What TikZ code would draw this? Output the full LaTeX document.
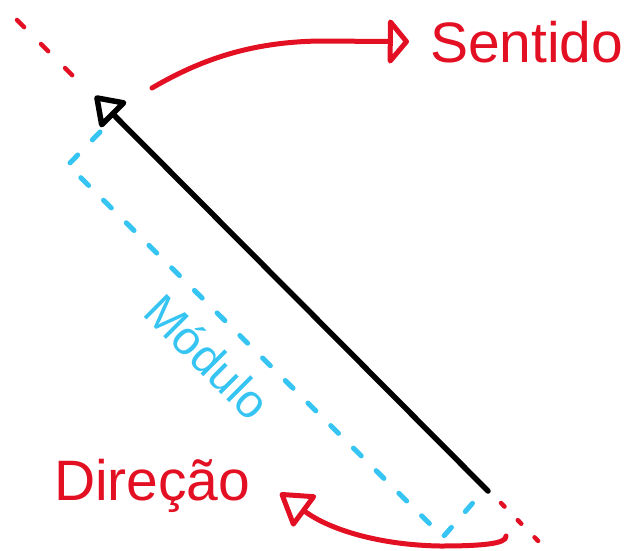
\documentclass[tikz,border=0pt]{standalone}
\usepackage{fontspec}
\setmainfont{Liberation Sans}
\usepackage{xcolor}
\usetikzlibrary{arrows.meta}
\definecolor{vecred}{HTML}{E31023}
\definecolor{vecblue}{HTML}{36C4F2}

\begin{document}
\begin{tikzpicture}[
    x=1pt,y=-1pt,
    every node/.style={inner sep=0pt,outer sep=0pt},
    lbl/.style={font=\fontsize{57}{60}\selectfont},
    vec/.style={line width=5.5pt,line cap=round,-{Triangle[open,round,length=30pt,width=40pt]}},
    axisline/.style={draw=vecred,line width=4.5pt,line cap=round,dash pattern=on 10pt off 24pt},
    measure/.style={draw=vecblue,line width=5pt,line cap=round,line join=round,dash pattern=on 11pt off 21pt},
    turn/.style={draw=vecred,line width=5pt,line cap=round}
  ]
    \useasboundingbox (0,0) rectangle (632,550);
    % labels
    \node[lbl,text=vecred,anchor=base west] (sentido) at (430,62) {Sentido};
    \node[lbl,text=vecred,anchor=base west] (direcao) at (54,500) {Direção};
    \node[lbl,text=vecblue,font=\fontsize{47}{50}\selectfont,rotate=-45,anchor=base west] (modulo) at (141,314) {Módulo};
    % vector ends
    \coordinate (tail) at (488,491);
    \coordinate (tip) at (95,96);
    % direction line
    \draw[axisline] (17,20) -- (73,76);
    \draw[axisline,dash pattern=on 5pt off 19pt] (501,503) -- (545,548);
    % module
    \coordinate (captop) at (100,132);
    \coordinate (mtop) at (68,165);
    \coordinate (mbot) at (443,537);
    \coordinate (capbot) at (478,497);
    \draw[measure] (captop) -- (mtop) -- (mbot) -- (capbot);
    % vector
    \draw[vec] (tail) -- (tip);
    % sense
    \coordinate (senstart) at (152,88);
    \draw[turn,-{Triangle[open,round,length=22pt,width=52pt]}] (senstart) .. controls (200,60) and (250,42) .. (320,41) -- ([xshift=-21pt]sentido.west);
    \coordinate (dirstart) at (506,536);
    \coordinate (dirtip) at (280,493);
    \draw[turn,-{Triangle[open,round,length=34pt,width=42pt]}] (dirstart) .. controls (507,544) and (480,546) .. (440,546) .. controls (380,545) and (330,530) .. (dirtip);
\end{tikzpicture}
\end{document}
